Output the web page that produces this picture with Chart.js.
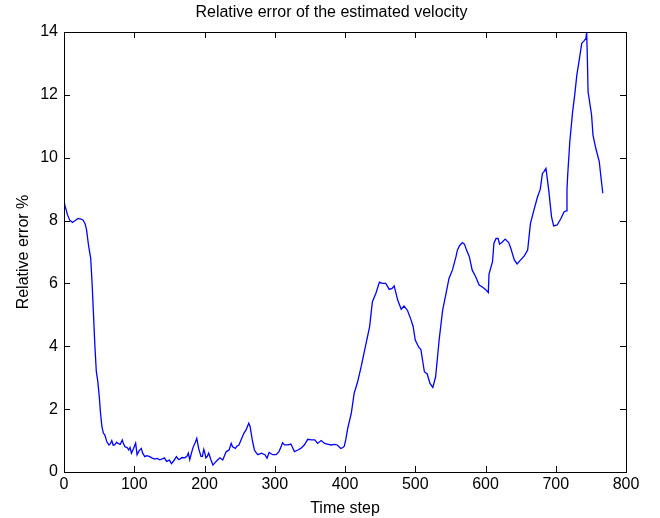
<!DOCTYPE html>
<html>
<head>
<meta charset="utf-8">
<script src="https://cdn.jsdelivr.net/npm/chart.js@4"></script>
<style>
  html, body { margin: 0; padding: 0; background: #fff; }
  canvas { display: block; }
</style>
</head>
<body>
<canvas id="errChart" width="660" height="518"></canvas>
<script>
// time step of each sample
const steps = [0, 1, 3, 5, 8, 12, 16, 20, 24, 27, 30, 32, 35, 38, 40, 42, 44, 46, 48,
  50, 52, 54, 56, 58, 61, 64, 66, 68, 70, 72, 75, 77, 80, 83, 85, 87, 90, 92, 94,
  96, 99, 102, 104, 107, 110, 112, 115, 118, 122, 125, 129, 133, 136, 140, 143, 146, 150, 153, 156,
  160, 163, 165, 168, 172, 175, 177, 179, 182, 184, 187, 189, 192, 195, 197, 199, 200, 202, 204, 206,
  209, 212, 215, 219, 222, 226, 229, 231, 235, 238, 240, 244, 246, 249, 252, 256, 259, 263, 265, 268,
  271, 274, 276, 281, 286, 289, 292, 297, 302, 306, 309, 311, 314, 319, 323, 326, 328, 333, 337, 342,
  347, 352, 357, 361, 366, 371, 375, 380, 385, 389, 394, 397, 399, 401, 404, 409, 413, 418, 423, 429,
  435, 439, 444, 449, 453, 458, 463, 467, 470, 475, 480, 484, 489, 494, 497, 500, 505, 508, 513, 517,
  521, 525, 529, 534, 539, 544, 548, 553, 558, 560, 563, 567, 570, 573, 577, 581, 586, 591, 596, 600,
  604, 605, 610, 612, 615, 618, 620, 624, 628, 633, 636, 641, 645, 650, 655, 660, 662, 664, 669, 674,
  678, 681, 683, 686, 687, 690, 694, 697, 702, 707, 712, 715, 716, 717, 720, 724, 727, 730, 733, 737,
  740, 743, 744, 745, 746, 751, 753, 757, 762, 764, 767];

// relative error (%) at those steps
const relError = [8.55, 8.5, 8.35, 8.18, 8.02, 7.94, 8.0, 8.07, 8.05, 8.02, 7.9, 7.72, 7.2, 6.8, 6.0, 5.0, 4.0, 3.2, 2.9,
  2.45, 1.87, 1.44, 1.24, 1.18, 0.96, 0.86, 0.9, 1.0, 0.85, 0.86, 0.95, 0.91, 0.88, 1.02, 0.88, 0.8, 0.78, 0.7, 0.78,
  0.6, 0.75, 0.92, 0.55, 0.68, 0.75, 0.6, 0.49, 0.52, 0.49, 0.45, 0.41, 0.43, 0.39, 0.42, 0.45, 0.34, 0.38, 0.27, 0.35,
  0.49, 0.4, 0.41, 0.46, 0.45, 0.5, 0.6, 0.39, 0.65, 0.8, 0.95, 1.07, 0.72, 0.5, 0.5, 0.72, 0.65, 0.45, 0.5, 0.6,
  0.4, 0.22, 0.3, 0.39, 0.45, 0.38, 0.55, 0.65, 0.7, 0.91, 0.8, 0.75, 0.82, 0.86, 1.02, 1.23, 1.33, 1.55, 1.44, 1.02,
  0.7, 0.6, 0.55, 0.6, 0.55, 0.44, 0.62, 0.55, 0.55, 0.65, 0.8, 0.93, 0.86, 0.86, 0.89, 0.75, 0.65, 0.7, 0.75, 0.86,
  1.04, 1.02, 1.02, 0.91, 1.0, 0.91, 0.89, 0.86, 0.88, 0.86, 0.75, 0.78, 0.82, 1.02, 1.4, 1.87, 2.5, 2.87, 3.35, 3.99,
  4.62, 5.42, 5.69, 6.04, 6.0, 6.0, 5.81, 5.84, 5.92, 5.47, 5.18, 5.28, 5.14, 4.84, 4.63, 4.2, 3.97, 3.9, 3.19, 3.12,
  2.82, 2.69, 3.03, 4.2, 5.15, 5.7, 6.16, 6.43, 6.85, 7.06, 7.2, 7.3, 7.25, 7.06, 6.85, 6.43, 6.21, 5.95, 5.88, 5.81,
  5.71, 6.3, 6.69, 7.28, 7.43, 7.43, 7.25, 7.32, 7.41, 7.3, 7.12, 6.75, 6.62, 6.75, 6.87, 7.06, 7.49, 7.91, 8.34, 8.75,
  9.0, 9.5, 9.55, 9.66, 9.5, 8.97, 8.12, 7.83, 7.86, 8.05, 8.28, 8.31, 9.0, 9.45, 10.51, 11.46, 12.0, 12.63, 13.05, 13.64,
  13.71, 13.8, 14.0, 13.16, 12.1, 11.36, 10.72, 10.3, 9.87, 9.45, 8.87];

const xTicks = [0, 100, 200, 300, 400, 500, 600, 700, 800];
const yTicks = [0, 2, 4, 6, 8, 10, 12, 14];

const fontFamily = "'Liberation Sans', Arial, Helvetica, sans-serif";

// MATLAB-like box with ticks pointing inwards on all four sides
const boxPlugin = {
  id: 'boxPlugin',
  afterDraw(chart) {
    const { ctx, chartArea: a, scales: { x, y } } = chart;
    const len = 6;
    ctx.save();
    ctx.strokeStyle = '#000';
    ctx.lineWidth = 1;
    ctx.strokeRect(Math.round(a.left) + 0.5, Math.round(a.top) + 0.5,
      Math.round(a.right) - Math.round(a.left), Math.round(a.bottom) - Math.round(a.top));
    ctx.beginPath();
    xTicks.forEach(v => {
      const px = Math.round(x.getPixelForValue(v)) + 0.5;
      ctx.moveTo(px, a.bottom); ctx.lineTo(px, a.bottom - len);
      ctx.moveTo(px, a.top); ctx.lineTo(px, a.top + len);
    });
    yTicks.forEach(v => {
      const py = Math.round(y.getPixelForValue(v)) + 0.5;
      ctx.moveTo(a.left, py); ctx.lineTo(a.left + len, py);
      ctx.moveTo(a.right, py); ctx.lineTo(a.right - len, py);
    });
    ctx.stroke();
    ctx.restore();
  }
};

const points = steps.map((s, i) => ({ x: s, y: relError[i] }));

new Chart(document.getElementById('errChart'), {
  type: 'line',
  data: {
    datasets: [{
      data: points,
      borderColor: '#0000ff',
      borderWidth: 1.3,
      pointRadius: 0,
      tension: 0,
      fill: false
    }]
  },
  options: {
    responsive: false,
    animation: false,
    layout: { padding: { left: 3, right: 0, top: 0, bottom: 0 } },
    plugins: {
      legend: { display: false },
      tooltip: { enabled: false },
      title: {
        display: true,
        text: 'Relative error of the estimated velocity',
        color: '#000',
        font: { family: fontFamily, size: 16, weight: 'normal' },
        padding: { top: 3, bottom: 9.8 }
      }
    },
    scales: {
      x: {
        type: 'linear',
        min: 0,
        max: 800,
        afterBuildTicks: s => { s.ticks = xTicks.map(v => ({ value: v })); },
        afterFit: s => { s.height = 46; },
        grid: { display: false, drawTicks: false },
        border: { display: false },
        ticks: { color: '#000', padding: 3, maxRotation: 0, font: { family: fontFamily, size: 16 } },
        title: {
          display: true,
          text: 'Time step',
          color: '#000',
          font: { family: fontFamily, size: 16 },
          padding: { top: 0, bottom: 0 }
        }
      },
      y: {
        min: 0,
        max: 14,
        afterBuildTicks: s => { s.ticks = yTicks.map(v => ({ value: v })); },
        afterFit: s => { s.width = 61; },
        grid: { display: false, drawTicks: false },
        border: { display: false },
        ticks: { color: '#000', padding: 6, font: { family: fontFamily, size: 16 } },
        title: {
          display: true,
          text: 'Relative error %',
          color: '#000',
          font: { family: fontFamily, size: 16 },
          padding: { top: 11, bottom: 0 }
        }
      },
      // empty right-hand axis that only reserves the margin right of the box
      yRight: {
        position: 'right',
        display: true,
        afterFit: s => { s.width = 34; },
        grid: { display: false, drawTicks: false },
        border: { display: false },
        ticks: { display: false }
      }
    }
  },
  plugins: [boxPlugin]
});
</script>
</body>
</html>
